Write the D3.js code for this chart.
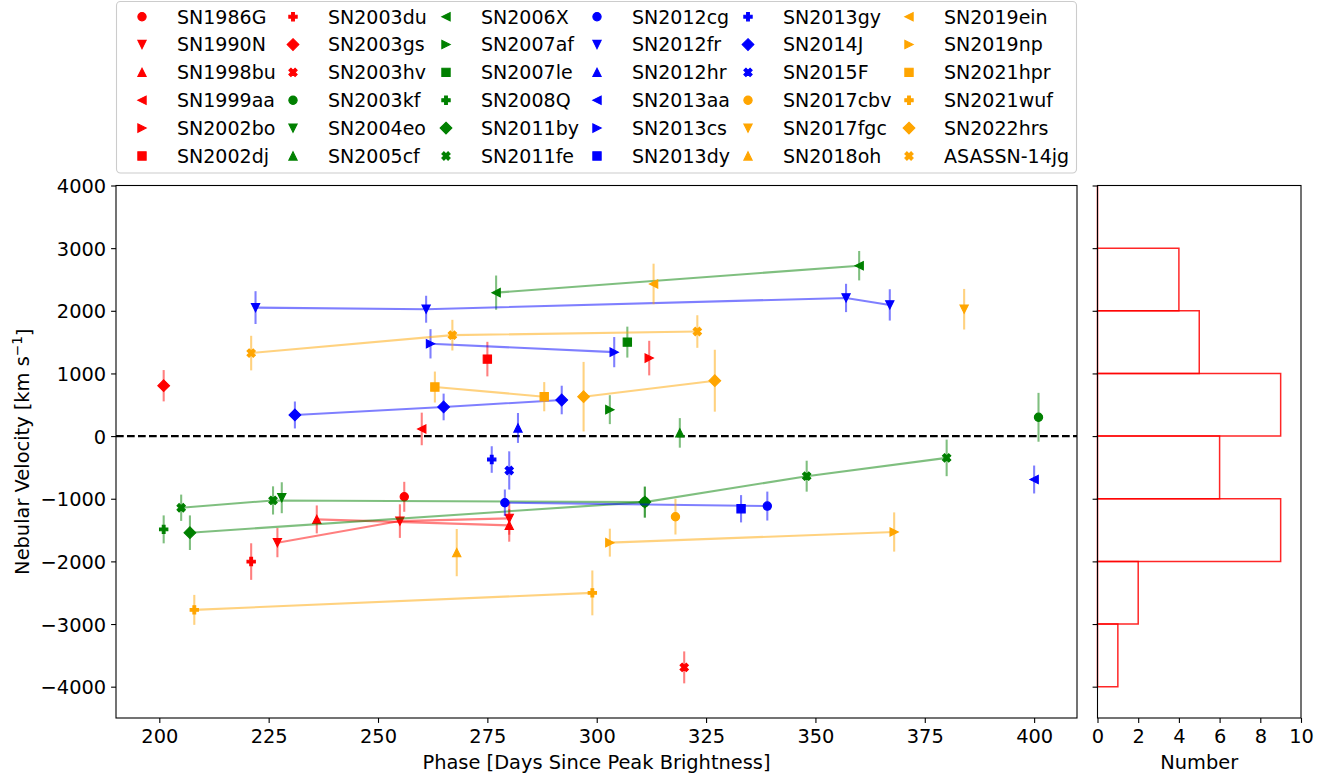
<!DOCTYPE html>
<html>
<head>
<meta charset="utf-8">
<script src="https://cdn.jsdelivr.net/npm/d3@7"></script>
<style>
  body { margin: 0; background: #fff; }
  text { font-family: "DejaVu Sans", sans-serif; fill: #000; }
</style>
</head>
<body>
<div id="d3-container"></div>
<script>
/**
 * DATA
 * */
const snNames = [
  "SN1986G", "SN1990N", "SN1998bu", "SN1999aa", "SN2002bo", "SN2002dj",
  "SN2003du", "SN2003gs", "SN2003hv", "SN2003kf", "SN2004eo", "SN2005cf",
  "SN2006X", "SN2007af", "SN2007le", "SN2008Q", "SN2011by", "SN2011fe",
  "SN2012cg", "SN2012fr", "SN2012hr", "SN2013aa", "SN2013cs", "SN2013dy",
  "SN2013gy", "SN2014J", "SN2015F", "SN2017cbv", "SN2017fgc", "SN2018oh",
  "SN2019ein", "SN2019np", "SN2021hpr", "SN2021wuf", "SN2022hrs", "ASASSN-14jg"
];

// phase (days since peak) per epoch, one list per supernova
const snPhases = [
  [256], [227, 255, 280], [236, 280], [260], [312], [275],
  [221], [201], [320], [401], [228], [319],
  [277, 360], [303], [307], [201], [207, 311], [205, 226, 311, 348, 380],
  [279, 339], [222, 261, 357, 367], [282], [400], [262, 304], [333],
  [276], [231, 265, 292], [280], [318], [384], [268],
  [313], [303, 368], [263, 288], [208, 299], [297, 327], [221, 267, 323]
];

// nebular velocity (km/s) per epoch
const snVelocities = [
  [-969], [-1701, -1357, -1314], [-1330, -1425], [114], [1245], [1229],
  [-2003], [804], [-3692], [300], [-984], [51],
  [2290, 2720], [422], [1500], [-1489], [-1542, -1054], [-1144, -1027, -1054, -640, -348],
  [-1064, -1117], [2051, 2025, 2205, 2094], [130], [-693], [1473, 1340], [-1160],
  [-374], [337, 465, 576], [-549], [-1287], [2025], [-1860],
  [2428], [-1701, -1531], [783, 629], [-2774, -2503], [629, 884], [1325, 1611, 1669]
];

// velocity uncertainty (km/s) per epoch
const snErrors = [
  [239], [233, 268, 260], [223, 260], [260], [276], [276],
  [292], [250], [255], [390], [247], [236],
  [273, 235], [231], [247], [223], [276, 247], [210, 225, 247, 247, 292],
  [212, 231], [262, 215, 226, 250], [239], [223], [234, 241], [218],
  [212], [215, 213, 228], [305], [284], [324], [377],
  [324], [223, 313], [247, 233], [239, 358], [555, 494], [276, 245, 260]
];

const groupColors = ["red", "green", "blue", "orange"];
const markerCycle = ["o", "v", "^", "<", ">", "s", "P", "D", "X"];

// histogram of velocities (first epoch of each SN)
const histEdges = [-4000, -3000, -2000, -1000, 0, 1000, 2000, 3000, 4000];
const histCounts = [1, 2, 9, 6, 9, 5, 4, 0];

const xTicks = [200, 225, 250, 275, 300, 325, 350, 375, 400];
const yTicks = [-4000, -3000, -2000, -1000, 0, 1000, 2000, 3000, 4000];
const histTicks = [0, 2, 4, 6, 8, 10];

/**
 * LAYOUT
 * */
const width = 1341, height = 779;
const plot = { left: 116, right: 1077, top: 185.5, bottom: 718 };
const side = { left: 1097.5, right: 1301 };
const MS = 8.3;          // marker size in px
const fontTick = 19.4;

const svg = d3.select("#d3-container")
  .append("svg")
  .attr("width", width)
  .attr("height", height);

const x = d3.scaleLinear([190.1, 409.8], [plot.left, plot.right]);
const y = d3.scaleLinear([-4500, 4000], [plot.bottom, plot.top]);
const xh = d3.scaleLinear([0, 10], [side.left, side.right]);

// matplotlib-like marker shapes
function markerPath(type, s) {
  const h = s / 2;
  const poly = pts => "M" + pts.map(p => p.join(",")).join("L") + "Z";
  switch (type) {
    case "o": return `M${h},0A${h},${h} 0 1,1 ${-h},0A${h},${h} 0 1,1 ${h},0Z`;
    case "v": return poly([[0, h], [-h, -h], [h, -h]]);
    case "^": return poly([[0, -h], [-h, h], [h, h]]);
    case "<": return poly([[-h, 0], [h, -h], [h, h]]);
    case ">": return poly([[h, 0], [-h, -h], [-h, h]]);
    case "s": return poly([[-h, -h], [h, -h], [h, h], [-h, h]]);
    case "D": {
      const d = s * Math.SQRT1_2;
      return poly([[0, -d], [d, 0], [0, d], [-d, 0]]);
    }
    case "P": {
      const u = s / 6;
      return poly([[-1, -3], [1, -3], [1, -1], [3, -1], [3, 1], [1, 1], [1, 3], [-1, 3], [-1, 1], [-3, 1], [-3, -1], [-1, -1]]
        .map(([a, b]) => [a * u, b * u]));
    }
    case "X": {
      const u = s / 4;
      return poly([[-1, -2], [0, -1], [1, -2], [2, -1], [1, 0], [2, 1], [1, 2], [0, 1], [-1, 2], [-2, 1], [-1, 0], [-2, -1]]
        .map(([a, b]) => [a * u, b * u]));
    }
  }
}

const series = snNames.map((name, i) => ({
  name,
  color: groupColors[Math.floor(i / 9)],
  marker: markerCycle[i % 9],
  points: snPhases[i].map((p, j) => ({ phase: p, vel: snVelocities[i][j], err: snErrors[i][j] }))
}));

/**
 * MAIN PANEL
 * */
const main = svg.append("g");

// zero line
main.append("line")
  .attr("x1", plot.left).attr("x2", plot.right)
  .attr("y1", y(0)).attr("y2", y(0))
  .attr("stroke", "black")
  .attr("stroke-width", 2.08)
  .attr("stroke-dasharray", "7.7,3.3");

const line = d3.line().x(d => x(d.phase)).y(d => y(d.vel));

const groups = main.selectAll("g.sn")
  .data(series)
  .join("g")
  .attr("class", "sn");

groups.filter(d => d.points.length > 1)
  .append("path")
  .attr("d", d => line(d.points))
  .attr("fill", "none")
  .attr("stroke", d => d.color)
  .attr("stroke-opacity", 0.5)
  .attr("stroke-width", 2.08);

groups.each(function (d) {
  const g = d3.select(this);
  g.selectAll("line.err")
    .data(d.points)
    .join("line")
    .attr("class", "err")
    .attr("x1", p => x(p.phase)).attr("x2", p => x(p.phase))
    .attr("y1", p => y(p.vel - p.err)).attr("y2", p => y(p.vel + p.err))
    .attr("stroke", d.color)
    .attr("stroke-opacity", 0.5)
    .attr("stroke-width", 2.08);
  g.selectAll("path.mk")
    .data(d.points)
    .join("path")
    .attr("class", "mk")
    .attr("d", markerPath(d.marker, MS))
    .attr("transform", p => `translate(${x(p.phase)},${y(p.vel)})`)
    .attr("fill", d.color)
    .attr("stroke", d.color)
    .attr("stroke-width", 1.1)
    .attr("stroke-linejoin", "miter");
});

// frame
main.append("rect")
  .attr("x", plot.left).attr("y", plot.top)
  .attr("width", plot.right - plot.left).attr("height", plot.bottom - plot.top)
  .attr("fill", "none").attr("stroke", "black").attr("stroke-width", 1.1);

const xAxis = main.append("g")
  .attr("transform", `translate(0,${plot.bottom})`)
  .call(d3.axisBottom(x).tickValues(xTicks).tickSize(4.9).tickPadding(6).tickSizeOuter(0));
const yAxis = main.append("g")
  .attr("transform", `translate(${plot.left},0)`)
  .call(d3.axisLeft(y).tickValues(yTicks).tickFormat(d3.format("d")).tickSize(4.9).tickPadding(4.9).tickSizeOuter(0));

[xAxis, yAxis].forEach(a => {
  a.select(".domain").remove();
  a.selectAll(".tick line").attr("stroke", "black").attr("stroke-width", 1.1);
  a.selectAll(".tick text").style("font-size", fontTick + "px").attr("fill", "black");
});
yAxis.selectAll(".tick text").attr("dy", "0.36em");

main.append("text")
  .attr("x", (plot.left + plot.right) / 2)
  .attr("y", 769)
  .attr("text-anchor", "middle")
  .style("font-size", fontTick + "px")
  .text("Phase [Days Since Peak Brightness]");

const yLabel = main.append("text")
  .attr("transform", `translate(28.5,${(plot.top + plot.bottom) / 2}) rotate(-90)`)
  .attr("text-anchor", "middle")
  .style("font-size", fontTick + "px");
yLabel.append("tspan").text("Nebular Velocity [km s");
yLabel.append("tspan").attr("dy", "-0.45em").style("font-size", "13.6px").text("\u22121");
yLabel.append("tspan").attr("dy", "0.45em").text("]");

/**
 * HISTOGRAM PANEL
 * */
const hist = svg.append("g");
const bins = histCounts.map((c, i) => ({ lo: histEdges[i], hi: histEdges[i + 1], count: c }));

hist.selectAll("path.bar")
  .data(bins)
  .join("path")
  .attr("class", "bar")
  .attr("d", b => `M${xh(0)},${y(b.hi)}L${xh(b.count)},${y(b.hi)}L${xh(b.count)},${y(b.lo)}L${xh(0)},${y(b.lo)}Z`)
  .attr("fill", "none")
  .attr("stroke", "red")
  .attr("stroke-opacity", 0.85)
  .attr("stroke-width", 1.5);

hist.append("rect")
  .attr("x", side.left).attr("y", plot.top)
  .attr("width", side.right - side.left).attr("height", plot.bottom - plot.top)
  .attr("fill", "none").attr("stroke", "black").attr("stroke-width", 1.1);

const hxAxis = hist.append("g")
  .attr("transform", `translate(0,${plot.bottom})`)
  .call(d3.axisBottom(xh).tickValues(histTicks).tickSize(4.9).tickPadding(6).tickSizeOuter(0));
const hyAxis = hist.append("g")
  .attr("transform", `translate(${side.left},0)`)
  .call(d3.axisLeft(y).tickValues(yTicks).tickFormat("").tickSize(4.9).tickSizeOuter(0));
[hxAxis, hyAxis].forEach(a => {
  a.select(".domain").remove();
  a.selectAll(".tick line").attr("stroke", "black").attr("stroke-width", 1.1);
  a.selectAll(".tick text").style("font-size", fontTick + "px").attr("fill", "black");
});

hist.append("text")
  .attr("x", (side.left + side.right) / 2)
  .attr("y", 769)
  .attr("text-anchor", "middle")
  .style("font-size", fontTick + "px")
  .text("Number");

/**
 * LEGEND
 * */
const legendCols = [142, 293, 446, 597, 748, 909];
const legendRow0 = 16.7, legendRowStep = 27.85;

const legend = svg.append("g");
legend.append("rect")
  .attr("x", 116.5).attr("y", 1.5)
  .attr("width", 960).attr("height", 171.5)
  .attr("rx", 4)
  .attr("fill", "white").attr("fill-opacity", 0.8)
  .attr("stroke", "#cccccc").attr("stroke-width", 1.1);

const items = legend.selectAll("g.item")
  .data(series)
  .join("g")
  .attr("class", "item")
  .attr("transform", (d, i) => `translate(${legendCols[Math.floor(i / 6)]},${legendRow0 + (i % 6) * legendRowStep})`);

items.append("path")
  .attr("d", d => markerPath(d.marker, MS))
  .attr("fill", d => d.color)
  .attr("stroke", d => d.color)
  .attr("stroke-width", 1.1);

items.append("text")
  .attr("x", 35)
  .attr("dy", "0.36em")
  .style("font-size", "19px")
  .text(d => d.name);
</script>
</body>
</html>
